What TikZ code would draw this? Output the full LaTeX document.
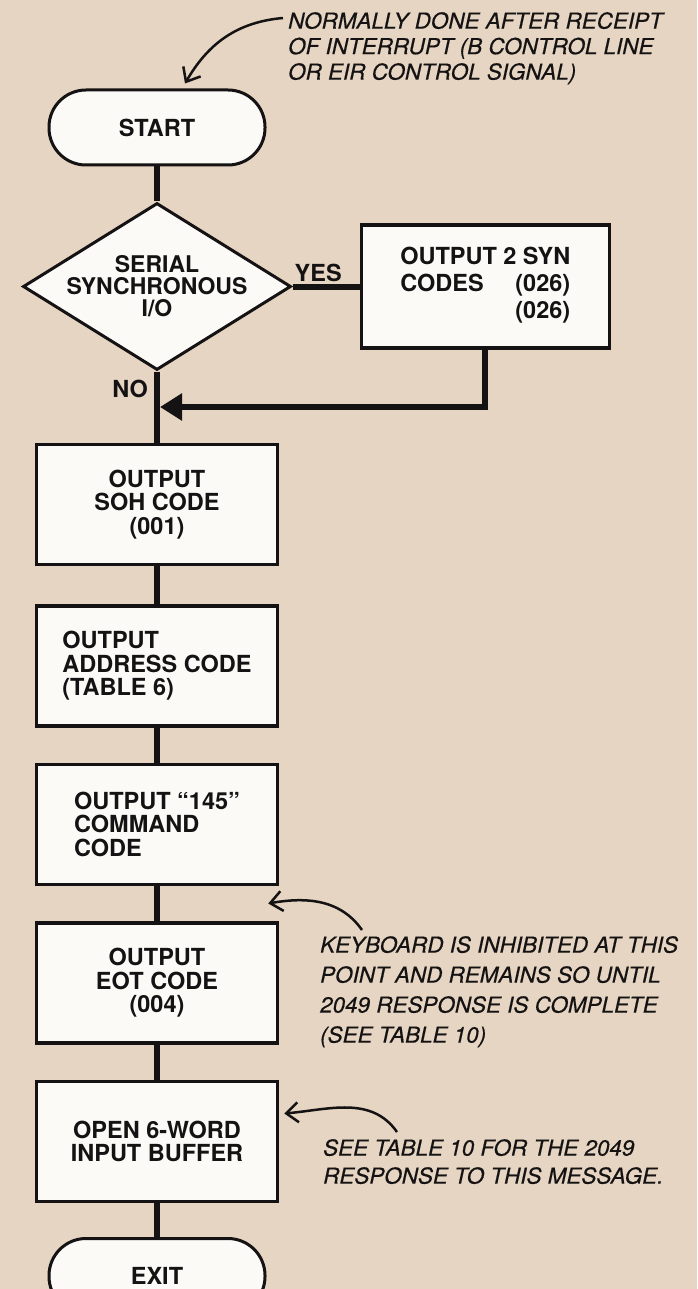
\documentclass[tikz,border=0pt]{standalone}
\usepackage{fontspec}
\setmainfont{TeX Gyre Heros}
\newfontfamily\notefont[FakeStretch=1.02,FakeBold=0.5]{TeX Gyre Heros}
\usetikzlibrary{arrows.meta,positioning,calc,shapes.geometric}
\definecolor{Paper}{HTML}{E6D5C2}
\definecolor{Ink}{HTML}{141212}
\definecolor{BoxWhite}{HTML}{FBFAF7}

\begin{document}
\begin{tikzpicture}[x=1pt, y=1pt,
  boxtext/.style={font=\bfseries\fontsize{23.5}{23.5}\selectfont, text=Ink},
  term/.style={boxtext, draw=Ink, fill=BoxWhite, line width=3pt, rectangle, rounded corners=37pt, minimum width=216pt, minimum height=75pt},
  process/.style={boxtext, draw=Ink, fill=BoxWhite, line width=3.5pt, minimum width=241pt, minimum height=120pt, align=center},
  decision/.style={boxtext, font=\bfseries\fontsize{23}{22}\selectfont, draw=Ink, fill=BoxWhite, line width=3pt, diamond, aspect=1.6, inner sep=-4pt, minimum width=268pt, minimum height=167pt, align=center},
  tag/.style={boxtext, inner sep=0pt},
  flow/.style={draw=Ink, line width=6pt},
  note/.style={text=Ink, align=left, inner sep=0pt, anchor=north west},
  pointer/.style={draw=Ink, line width=2.5pt, -{Straight Barb[length=12pt,width=20pt]}}]
  \useasboundingbox (0,0) rectangle (697,-1289);
  \fill[Paper] (0,0) rectangle (697,-1289);

  \node[term] (start) at (157,-127.5) {START};
  \node[decision, below=35pt of start] (serial) {SERIAL\\SYNCHRONOUS\\I/O};
  \node[process, right=67pt of serial, minimum width=248pt, minimum height=123pt, font=\bfseries\fontsize{23.5}{27}\selectfont] (syn) {\begin{tabular}{@{}l@{}r@{}}\multicolumn{2}{@{}l@{}}{OUTPUT 2 SYN}\\ CODES & (026)\\ & (026)\end{tabular}};
  \node[process, below=71pt of serial] (soh) {OUTPUT\\SOH CODE\\(001)};
  \node[process, below=38pt of soh, align=left] (addr) {OUTPUT\\ADDRESS CODE\\(TABLE 6)};
  \node[process, below=35pt of addr, align=left] (cmd) {OUTPUT “145”\\COMMAND\\CODE};
  \node[process, below=35pt of cmd] (eot) {OUTPUT\\EOT CODE\\(004)};
  \node[process, below=35pt of eot] (buf) {OPEN 6-WORD\\INPUT BUFFER};
  \node[term, below=34pt of buf] (exit) {EXIT};

  \node[tag, above right=5pt and 2pt of serial.east] (yes) {YES};
  \node[tag, below left=8pt and 9pt of serial.south] (no) {NO};
  \coordinate (merge) at ($(serial.south)!0.5!(soh.north)$);

  \draw[flow] (start) -- (serial);
  \draw[flow] (serial) -- (syn);
  \draw[flow] (serial) -- (soh);
  \draw[flow] (soh) -- (addr);
  \draw[flow] (addr) -- (cmd);
  \draw[flow] (cmd) -- (eot);
  \draw[flow] (eot) -- (buf);
  \draw[flow] (buf) -- (exit);
  \draw[flow, -{Triangle[length=22pt,width=26pt]}, shorten >=3pt] (syn.south) |- (merge);

  \node[note, font=\notefont\itshape\fontsize{22}{25.5}\selectfont] (intnote) at (288,-12) {NORMALLY DONE AFTER RECEIPT\\OF INTERRUPT (B CONTROL LINE\\OR EIR CONTROL SIGNAL)};
  \node[note, font=\notefont\itshape\fontsize{22}{30}\selectfont] (kbnote) at (320,-936) {KEYBOARD IS INHIBITED AT THIS\\POINT AND REMAINS SO UNTIL\\2049 RESPONSE IS COMPLETE\\(SEE TABLE 10)};
  \node[note, font=\notefont\itshape\fontsize{22}{28}\selectfont] (seenote) at (323,-1139) {SEE TABLE 10 FOR THE 2049\\RESPONSE TO THIS MESSAGE.};

  \draw[pointer] ([xshift=-5pt,yshift=-6pt]intnote.north west) to[out=185,in=60] ([xshift=28pt,yshift=5pt]start.north);
  \draw[pointer] ([xshift=42pt,yshift=6pt]kbnote.north west) to[out=125,in=10] ($(cmd.south east)!0.5!(eot.north east)+(-11,0)$);
  \draw[pointer] ([xshift=74pt,yshift=7pt]seenote.north west) to[out=125,in=5] ([xshift=5pt,yshift=-34pt]buf.north east);
\end{tikzpicture}
\end{document}
